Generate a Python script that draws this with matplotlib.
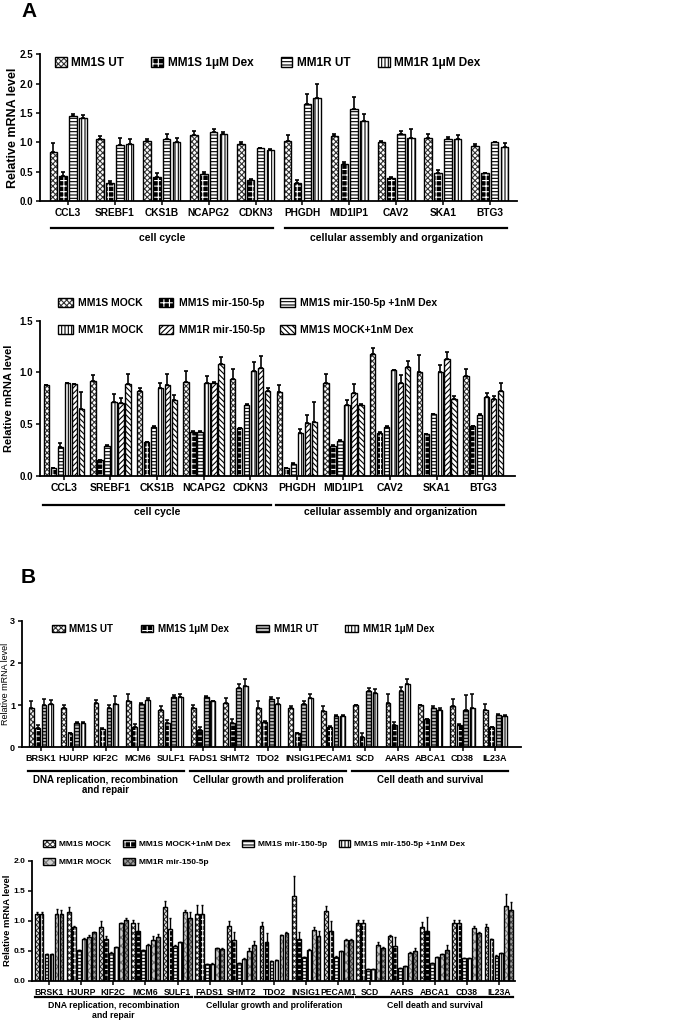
import matplotlib
matplotlib.use('Agg')
import matplotlib.pyplot as plt
import matplotlib.transforms as mtransforms
from matplotlib.patches import Patch
import numpy as np

plt.rcParams['font.family'] = ['Liberation Sans', 'DejaVu Sans']
plt.rcParams['font.weight'] = 'bold'
plt.rcParams['hatch.linewidth'] = 0.8

# ---------------- data ----------------
genes_a = ['CCL3', 'SREBF1', 'CKS1B', 'NCAPG2', 'CDKN3',
           'PHGDH', 'MID1IP1', 'CAV2', 'SKA1', 'BTG3']
cats_a = ['cell cycle', 'cellular assembly and organization']
cat_sizes_a = [5, 5]

a1_series = ['MM1S UT', 'MM1S 1μM Dex', 'MM1R UT', 'MM1R 1μM Dex']
a1_means = [
    [0.84, 1.06, 1.03, 1.13, 0.97, 1.02, 1.10, 1.01, 1.07, 0.93],
    [0.43, 0.31, 0.41, 0.46, 0.36, 0.31, 0.63, 0.40, 0.47, 0.47],
    [1.45, 0.96, 1.05, 1.18, 0.90, 1.65, 1.57, 1.14, 1.05, 1.00],
    [1.42, 0.97, 1.00, 1.14, 0.87, 1.76, 1.36, 1.08, 1.06, 0.92],
]
a1_errs = [
    [0.15, 0.05, 0.02, 0.07, 0.04, 0.10, 0.04, 0.01, 0.08, 0.04],
    [0.07, 0.03, 0.06, 0.03, 0.02, 0.05, 0.03, 0.01, 0.05, 0.00],
    [0.03, 0.11, 0.10, 0.05, 0.01, 0.17, 0.21, 0.06, 0.04, 0.01],
    [0.04, 0.09, 0.07, 0.04, 0.01, 0.24, 0.12, 0.15, 0.07, 0.07],
]

a2_series = ['MM1S MOCK', 'MM1S mir-150-5p', 'MM1S mir-150-5p +1nM Dex',
             'MM1R MOCK', 'MM1R mir-150-5p', 'MM1S MOCK+1nM Dex']
a2_means = [
    [0.88, 0.92, 0.82, 0.91, 0.94, 0.81, 0.90, 1.18, 1.00, 0.96],
    [0.07, 0.15, 0.33, 0.42, 0.46, 0.07, 0.29, 0.41, 0.40, 0.48],
    [0.28, 0.29, 0.47, 0.42, 0.68, 0.11, 0.34, 0.47, 0.60, 0.59],
    [0.90, 0.71, 0.85, 0.90, 1.01, 0.41, 0.68, 1.02, 1.00, 0.76],
    [0.89, 0.70, 0.88, 0.90, 1.04, 0.51, 0.80, 0.90, 1.13, 0.74],
    [0.65, 0.89, 0.73, 1.08, 0.82, 0.52, 0.68, 1.05, 0.74, 0.82],
]
a2_errs = [
    [0.00, 0.05, 0.03, 0.10, 0.09, 0.07, 0.08, 0.06, 0.17, 0.07],
    [0.00, 0.00, 0.00, 0.01, 0.00, 0.00, 0.01, 0.01, 0.00, 0.00],
    [0.04, 0.01, 0.01, 0.01, 0.01, 0.01, 0.01, 0.01, 0.00, 0.01],
    [0.00, 0.08, 0.05, 0.06, 0.09, 0.04, 0.05, 0.00, 0.07, 0.04],
    [0.00, 0.05, 0.10, 0.01, 0.12, 0.08, 0.09, 0.07, 0.07, 0.03],
    [0.16, 0.09, 0.05, 0.07, 0.03, 0.19, 0.01, 0.06, 0.03, 0.08],
]

genes_b = ['BRSK1', 'HJURP', 'KIF2C', 'MCM6', 'SULF1',
           'FADS1', 'SHMT2', 'TDO2', 'INSIG1', 'PECAM1',
           'SCD', 'AARS', 'ABCA1', 'CD38', 'IL23A']
cats_b = ['DNA replication, recombination\nand repair',
          'Cellular growth and proliferation', 'Cell death and survival']
cat_sizes_b = [5, 5, 5]

b1_series = ['MM1S UT', 'MM1S 1μM Dex', 'MM1R UT', 'MM1R 1μM Dex']
b1_means = [
    [0.94, 0.94, 1.04, 1.09, 0.88, 0.94, 1.04, 0.94, 0.94, 0.87, 1.00, 1.06, 1.00, 0.97, 0.88],
    [0.45, 0.33, 0.43, 0.47, 0.58, 0.40, 0.58, 0.61, 0.33, 0.48, 0.25, 0.53, 0.66, 0.54, 0.47],
    [1.00, 0.58, 0.94, 1.02, 1.19, 1.19, 1.40, 1.14, 1.02, 0.73, 1.33, 1.33, 0.94, 0.88, 0.77],
    [1.02, 0.58, 1.02, 1.12, 1.19, 1.09, 1.45, 1.03, 1.18, 0.73, 1.28, 1.50, 0.88, 0.92, 0.73],
]
b1_errs = [
    [0.16, 0.06, 0.07, 0.17, 0.10, 0.07, 0.12, 0.16, 0.05, 0.12, 0.01, 0.20, 0.01, 0.18, 0.14],
    [0.08, 0.02, 0.02, 0.08, 0.06, 0.07, 0.10, 0.01, 0.01, 0.02, 0.09, 0.08, 0.02, 0.02, 0.01],
    [0.14, 0.02, 0.06, 0.03, 0.06, 0.02, 0.09, 0.06, 0.07, 0.03, 0.07, 0.09, 0.03, 0.35, 0.02],
    [0.11, 0.02, 0.20, 0.06, 0.08, 0.01, 0.16, 0.13, 0.08, 0.03, 0.10, 0.12, 0.04, 0.34, 0.03],
]

b2_series = ['MM1S MOCK', 'MM1S MOCK+1nM Dex', 'MM1S mir-150-5p',
             'MM1S mir-150-5p +1nM Dex', 'MM1R MOCK', 'MM1R mir-150-5p']
b2_means = [
    [1.12, 1.14, 0.90, 0.97, 1.23, 1.11, 0.92, 0.91, 1.42, 1.17, 0.96, 0.75, 0.90, 0.96, 0.90],
    [1.12, 0.90, 0.69, 0.83, 0.87, 1.11, 0.68, 0.64, 0.69, 0.83, 0.96, 0.58, 0.83, 0.96, 0.69],
    [0.44, 0.51, 0.47, 0.51, 0.58, 0.28, 0.30, 0.33, 0.39, 0.40, 0.19, 0.22, 0.29, 0.38, 0.42],
    [0.44, 0.69, 0.56, 0.60, 0.65, 0.28, 0.37, 0.34, 0.52, 0.49, 0.19, 0.24, 0.40, 0.38, 0.47],
    [1.12, 0.73, 0.96, 0.68, 1.14, 0.54, 0.50, 0.76, 0.84, 0.68, 0.60, 0.47, 0.44, 0.88, 1.25],
    [1.12, 0.81, 1.02, 0.73, 1.05, 0.53, 0.59, 0.80, 0.74, 0.68, 0.54, 0.50, 0.52, 0.80, 1.18],
]
b2_errs = [
    [0.03, 0.09, 0.09, 0.04, 0.10, 0.15, 0.08, 0.07, 0.32, 0.08, 0.06, 0.01, 0.08, 0.06, 0.05],
    [0.03, 0.01, 0.05, 0.13, 0.18, 0.15, 0.13, 0.16, 0.13, 0.16, 0.06, 0.15, 0.24, 0.06, 0.01],
    [0.00, 0.00, 0.01, 0.00, 0.01, 0.00, 0.00, 0.00, 0.00, 0.01, 0.00, 0.00, 0.00, 0.00, 0.01],
    [0.00, 0.02, 0.01, 0.01, 0.00, 0.01, 0.01, 0.01, 0.01, 0.01, 0.00, 0.01, 0.00, 0.00, 0.00],
    [0.07, 0.04, 0.01, 0.07, 0.04, 0.01, 0.04, 0.01, 0.05, 0.02, 0.05, 0.01, 0.01, 0.03, 0.19],
    [0.06, 0.01, 0.03, 0.05, 0.10, 0.01, 0.07, 0.01, 0.09, 0.02, 0.03, 0.05, 0.07, 0.01, 0.13],
]

# ---------------- fill styles: (face, hatch, hatch colour) ----------------
XDARK = ('white', 'xxxxxx', '#333333')
CHECK = ('black', '+++', 'white')
HOR = ('white', '-----', 'black')
HOR_G = ('#bbbbbb', '-----', 'black')
VER = ('white', '|||||', 'black')
DIAG = ('white', '//////', 'black')
BDIAG = ('white', '\\\\\\\\\\\\', 'black')
XLIGHT = ('#d0d0d0', 'xxxx', '#777777')
XGRAY = ('#a0a0a0', 'xxxxxx', '#444444')


def style_handle(st):
    face, hatch, hc = st
    return (Patch(facecolor=face, edgecolor=hc, hatch=hatch, linewidth=0),
            Patch(fill=False, edgecolor='black', linewidth=1.0))


def grouped(ax, genes, means, errs, styles, pitch, width, elw, cap):
    x = np.arange(len(genes))
    n = len(means)
    for i in range(n):
        xi = x + (i - (n - 1) / 2) * pitch
        face, hatch, hc = styles[i]
        ax.bar(xi, means[i], width, color=face, edgecolor=hc, hatch=hatch, linewidth=0)
        ax.bar(xi, means[i], width, fill=False, edgecolor='black', linewidth=1.0)
        ax.errorbar(xi, means[i], yerr=[np.zeros(len(genes)), errs[i]], fmt='none',
                    ecolor='black', elinewidth=elw, capsize=cap, capthick=elw)
    ax.set_xticks(x)
    ax.set_xticklabels(genes)
    for s in ['top', 'right']:
        ax.spines[s].set_visible(False)
    for s in ['left', 'bottom']:
        ax.spines[s].set_linewidth(1.3)
    ax.tick_params(axis='both', width=1.1, length=3, pad=2)


def cat_lines(ax, cats, sizes, half, yline, ytext, fs):
    tr = mtransforms.blended_transform_factory(ax.transData, ax.transAxes)
    start = 0
    for c, s in zip(cats, sizes):
        x0, x1 = start - half, start + s - 1 + half
        ax.plot([x0, x1], [yline, yline], color='black', lw=1.6, transform=tr, clip_on=False)
        ax.text((x0 + x1) / 2, ytext, c, transform=tr, ha='center', va='top',
                fontsize=fs, fontweight='bold', linespacing=1.1)
        start += s


fig = plt.figure(figsize=(6.8, 10.25), dpi=100)

# ---------- A top ----------
ax1 = fig.add_axes([40 / 680, 1 - 201 / 1025, 477 / 680, 146.7 / 1025])
st1 = [XDARK, CHECK, HOR, VER]
grouped(ax1, genes_a, a1_means, a1_errs, st1, 0.21, 0.16, 1.2, 1.5)
ax1.set_xlim(-0.6, 9.58)
ax1.set_ylim(0, 2.5)
ax1.set_yticks(np.arange(0, 2.51, 0.5))
ax1.set_yticklabels(['%.1f' % v for v in np.arange(0, 2.51, 0.5)], fontsize=7)
ax1.tick_params(axis='x', labelsize=7.3)
ax1.set_ylabel('Relative mRNA level', fontsize=9, fontweight='bold')
ax1.yaxis.set_label_coords(-0.044, 0.5)
cat_lines(ax1, cats_a, cat_sizes_a, 0.37, -0.184, -0.215, 7.5)
ax1.legend([style_handle(s) for s in st1], a1_series, ncol=4, frameon=False,
           loc='center left', bbox_to_anchor=(0.031, 0.94), borderpad=0, borderaxespad=0,
           handlelength=1.0, handleheight=0.9, handletextpad=0.4, columnspacing=2.3,
           prop={'size': 8.5, 'weight': 'bold'})

# ---------- A bottom ----------
ax2 = fig.add_axes([40 / 680, 1 - 475.7 / 1025, 475 / 680, 155 / 1025])
st2 = [XDARK, CHECK, HOR, VER, DIAG, BDIAG]
grouped(ax2, genes_a, a2_means, a2_errs, st2, 0.15, 0.115, 1.2, 1.2)
ax2.set_xlim(-0.51, 9.68)
ax2.set_ylim(0, 1.5)
ax2.set_yticks(np.arange(0, 1.51, 0.5))
ax2.set_yticklabels(['%.1f' % v for v in np.arange(0, 1.51, 0.5)], fontsize=7)
ax2.tick_params(axis='x', labelsize=7.5)
ax2.set_ylabel('Relative mRNA level', fontsize=8, fontweight='bold')
ax2.yaxis.set_label_coords(-0.055, 0.5)
cat_lines(ax2, cats_a, cat_sizes_a, 0.45, -0.189, -0.205, 7.5)
order2 = [0, 3, 1, 4, 2, 5]
ax2.legend([style_handle(st2[i]) for i in order2], [a2_series[i] for i in order2],
           ncol=3, frameon=False, loc='center left', bbox_to_anchor=(0.038, 1.027),
           borderpad=0, borderaxespad=0, handlelength=1.4, handleheight=0.9,
           handletextpad=0.5, columnspacing=1.5, labelspacing=1.6,
           prop={'size': 7.5, 'weight': 'bold'})

# ---------- B top ----------
ax3 = fig.add_axes([22 / 680, 1 - 747.3 / 1025, 499 / 680, 126.6 / 1025])
st3 = [XDARK, CHECK, HOR_G, VER]
grouped(ax3, genes_b, b1_means, b1_errs, st3, 0.2, 0.15, 1.1, 1.2)
ax3.set_xlim(-0.58, 14.8)
ax3.set_ylim(0, 3)
ax3.set_yticks([0, 1, 2, 3])
ax3.set_yticklabels(['0', '1', '2', '3'], fontsize=6.5)
ax3.tick_params(axis='x', labelsize=6.5)
ax3.set_ylabel('Relative mRNA level', fontsize=6.5, fontweight='normal')
ax3.yaxis.set_label_coords(-0.024, 0.5)
cat_lines(ax3, cats_b, cat_sizes_b, 0.4, -0.187, -0.215, 7)
ax3.legend([style_handle(s) for s in st3], b1_series, ncol=4, frameon=False,
           loc='center left', bbox_to_anchor=(0.06, 0.937), borderpad=0, borderaxespad=0,
           handlelength=1.3, handleheight=0.8, handletextpad=0.5, columnspacing=2.8,
           prop={'size': 7, 'weight': 'bold'})

# ---------- B bottom ----------
ax4 = fig.add_axes([32 / 680, 1 - 980.7 / 1025, 483 / 680, 120 / 1025])
st4 = [XDARK, CHECK, HOR, VER, XLIGHT, XGRAY]
grouped(ax4, genes_b, b2_means, b2_errs, st4, 0.155, 0.12, 1.0, 1.0)
ax4.set_xlim(-0.53, 14.5)
ax4.set_ylim(0, 2.0)
ax4.set_yticks(np.arange(0, 2.01, 0.5))
ax4.set_yticklabels(['%.1f' % v for v in np.arange(0, 2.01, 0.5)], fontsize=6)
ax4.tick_params(axis='x', labelsize=6.2)
ax4.set_ylabel('Relative mRNA level', fontsize=6.8, fontweight='bold')
ax4.yaxis.set_label_coords(-0.041, 0.5)
cat_lines(ax4, cats_b, cat_sizes_b, 0.45, -0.133, -0.17, 6.3)
order4 = [0, 4, 1, 5, 2, 3]
ax4.legend([style_handle(st4[i]) for i in order4], [b2_series[i] for i in order4],
           ncol=4, frameon=False, loc='center left', bbox_to_anchor=(0.023, 1.064),
           borderpad=0, borderaxespad=0, handlelength=1.4, handleheight=0.9,
           handletextpad=0.5, columnspacing=1.4, labelspacing=1.1,
           prop={'size': 6, 'weight': 'bold'})

fig.text(0.031, 0.989, 'A', fontsize=15, fontweight='bold', ha='left', va='center')
fig.text(0.031, 0.437, 'B', fontsize=15, fontweight='bold', ha='left', va='center')

fig.savefig('out.png', dpi=100)
